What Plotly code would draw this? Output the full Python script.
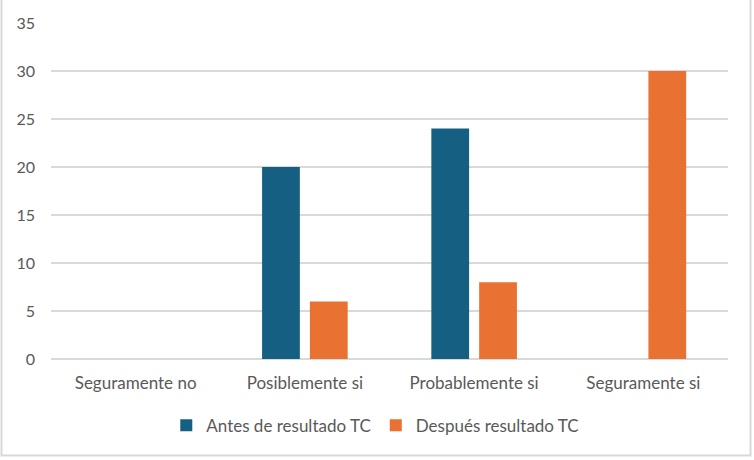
import plotly.graph_objects as go

categories = ["Seguramente no", "Posiblemente si", "Probablemente si", "Seguramente si"]
antes = [0, 20, 24, 0]
despues = [0, 6, 8, 30]
series_names = ["Antes de resultado TC", "Después resultado TC"]
colors = ["#156082", "#E97132"]

W, H = 754, 460
ml, mr, mt, mb = 51, 26, 23, 101
pw, ph = W - ml - mr, H - mt - mb

fig = go.Figure()
fig.add_trace(go.Bar(x=categories, y=antes, name=series_names[0], marker_color=colors[0], marker_line_width=0))
fig.add_trace(go.Bar(x=categories, y=despues, name=series_names[1], marker_color=colors[1], marker_line_width=0))

font_fam = "Lato, 'Open Sans', sans-serif"
fig.update_layout(
    width=W, height=H,
    margin=dict(l=ml, r=mr, t=mt, b=mb),
    paper_bgcolor="white", plot_bgcolor="white",
    barmode="group", bargap=0.435, bargroupgap=0.21,
    font=dict(family=font_fam, size=17, color="#595959"),
    showlegend=True,
    legend=dict(orientation="h", x=0.479, xanchor="center", y=-0.145, yanchor="top",
                font=dict(size=17, color="#595959"), itemwidth=30, traceorder="normal"),
    xaxis=dict(showgrid=False, showline=False, ticks="", ticklabelstandoff=12,
               tickfont=dict(size=17, color="#595959")),
    yaxis=dict(range=[0, 35], dtick=5, showgrid=True, gridcolor="#D9D9D9", gridwidth=1.5,
               zeroline=True, zerolinecolor="#D9D9D9", zerolinewidth=1.5,
               showline=False, ticks="", ticklabelstandoff=15,
               tickfont=dict(size=16, color="#595959")),
    shapes=[dict(type="rect", xref="paper", yref="paper",
                 x0=(1.5 - ml) / pw, x1=(W - 3.5 - ml) / pw,
                 y0=-(H - 4.5 - mt - ph) / ph,
                 y1=(H - mt - 1.5) / ph,
                 line=dict(color="#D9D9D9", width=2), layer="below")],
)
fig.write_html("out.html")
